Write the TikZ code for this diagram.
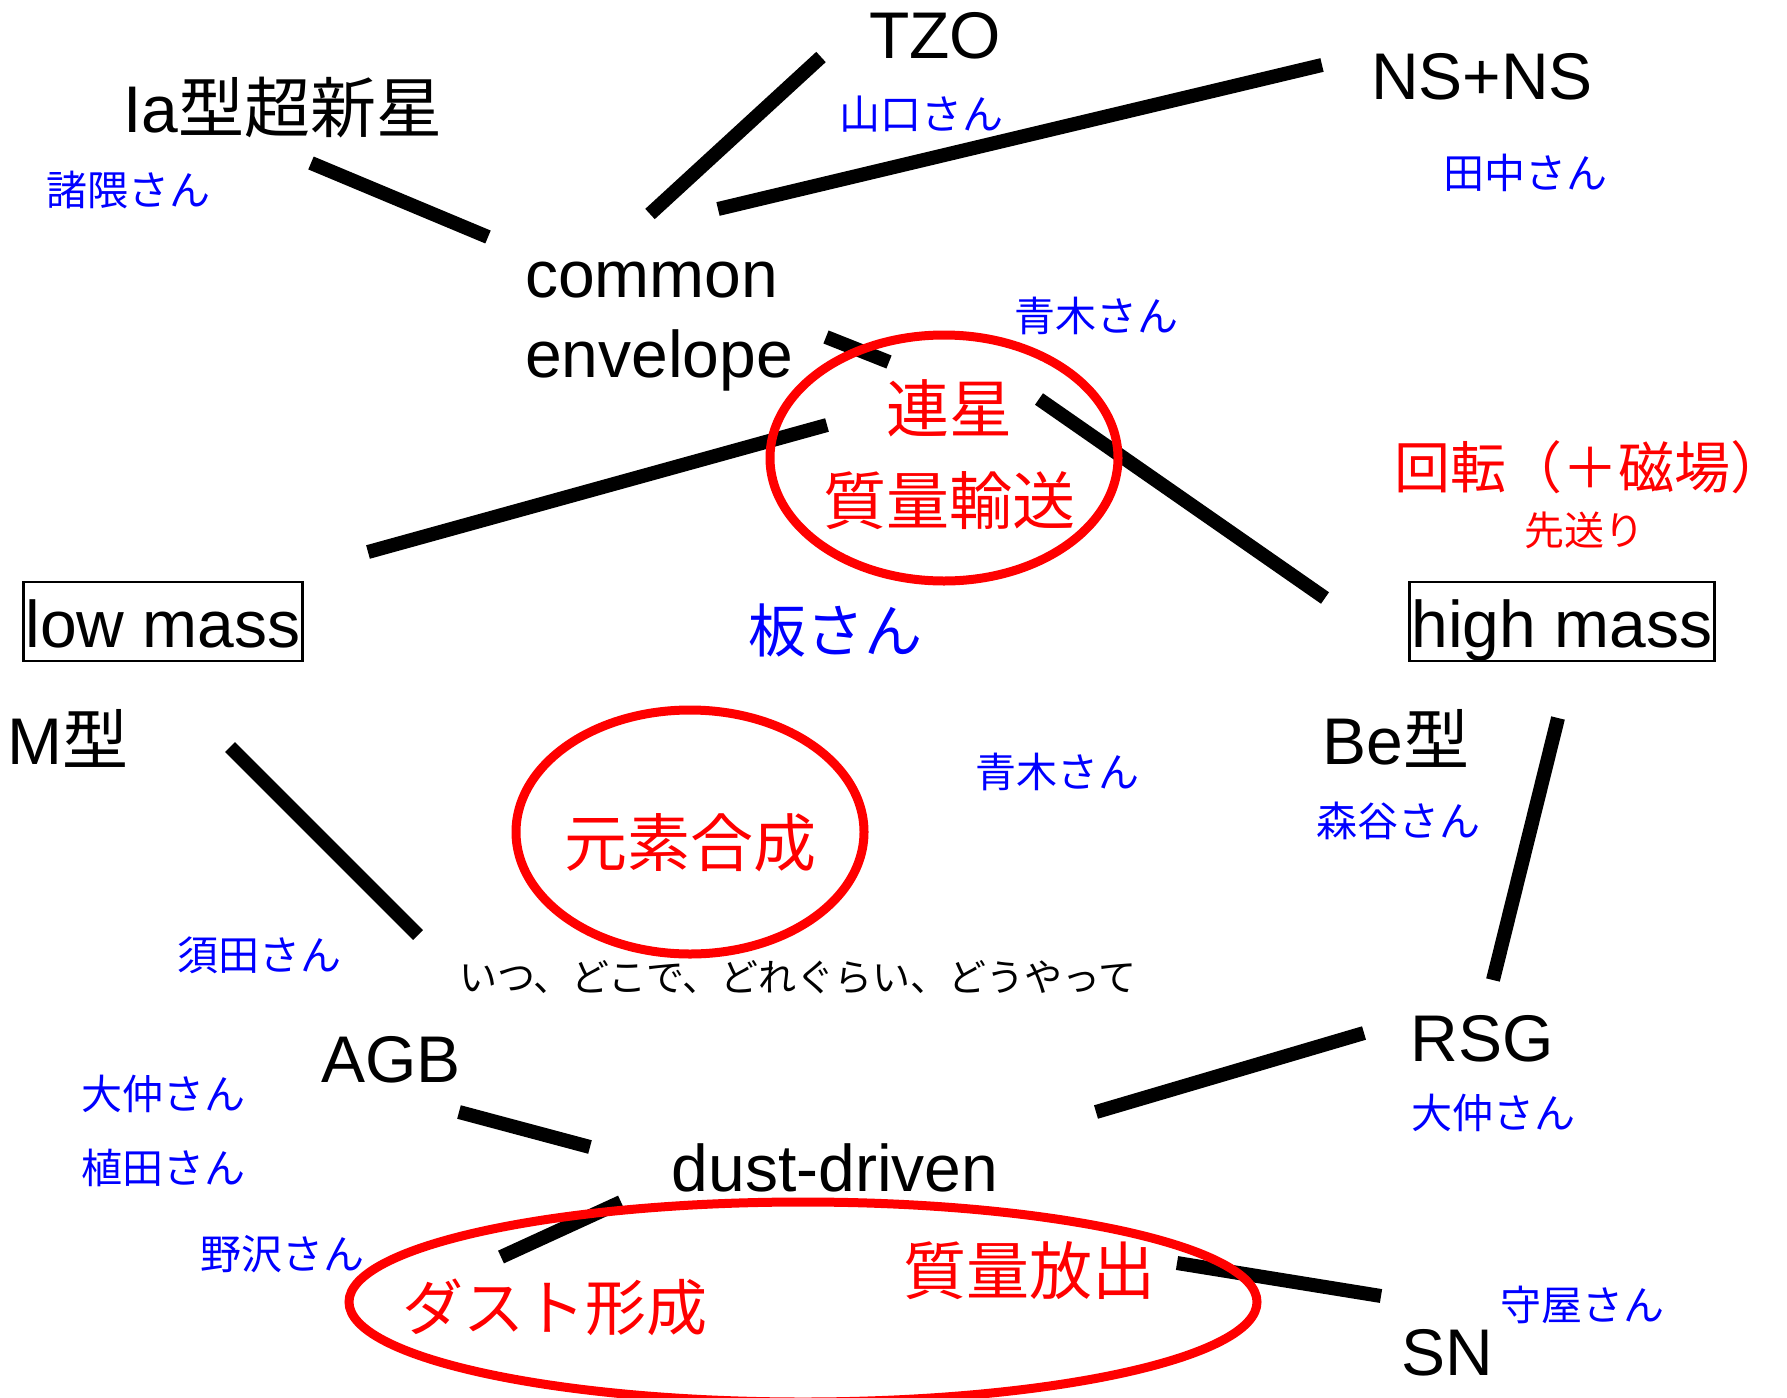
\documentclass[tikz,border=0pt]{standalone}
\usepackage{fontspec}
\setmainfont{Liberation Sans}
\newfontfamily\cjk{Noto Sans CJK JP}
\begin{document}
\begin{tikzpicture}[x=1pt,y=-1pt,
  lbl/.style={inner sep=0pt,font=\fontsize{66}{80}\selectfont},
  boxlbl/.style={draw,line width=2.5pt,inner xsep=2pt,inner ysep=6pt,text height=59pt,text depth=8pt,font=\fontsize{66}{80}\selectfont},
  nm/.style={inner sep=0pt,text=blue,font=\cjk\fontsize{41}{48}\selectfont},
  rd/.style={inner sep=0pt,text=red,font=\cjk\fontsize{63}{72}\selectfont},
  conn/.style={line width=14pt,black},
  ring/.style={draw=red,line width=9pt}]
\useasboundingbox (0,0) rectangle (1787,1397);
% labels
\node[lbl] (tzo) at (935,36) {TZO};
\node[lbl] (nsns) at (1482,77) {NS+NS};
\node[lbl] (ia) at (283,108) {Ia{\cjk 型超新星}};
\node[lbl,align=left,anchor=west] (ce) at (525,327) {common\\envelope};
\node[boxlbl] (low) at (163,621.5) {low mass};
\node[boxlbl] (high) at (1562,621.5) {high mass};
\node[lbl] (m) at (68,738) {M{\cjk 型}};
\node[lbl] (be) at (1396,738) {Be{\cjk 型}};
\node[lbl] (agb) at (391,1060) {AGB};
\node[lbl] (rsg) at (1482,1039) {RSG};
\node[lbl] (dust) at (835,1168) {dust-driven};
\node[lbl] (sn) at (1447,1353) {SN};
\node[inner sep=0pt,font=\cjk\fontsize{38}{44}\selectfont] (q) at (798,977) {いつ、どこで、どれぐらい、どうやって};
% names
\node[nm] (yamaguchi) at (921,114) {山口さん};
\node[nm] (morokuma) at (128,190) {諸隈さん};
\node[nm] (tanaka) at (1525,173) {田中さん};
\node[nm] (aoki1) at (1096,316) {青木さん};
\node[nm,font=\cjk\fontsize{58}{66}\selectfont] (ita) at (835,630) {板さん};
\node[nm] (aoki2) at (1057,772) {青木さん};
\node[nm] (moriya) at (1398,821) {森谷さん};
\node[nm] (suda) at (259,955) {須田さん};
\node[nm] (onaka1) at (163,1094) {大仲さん};
\node[nm] (ueda) at (163,1168) {植田さん};
\node[nm] (nozawa) at (282,1254) {野沢さん};
\node[nm] (onaka2) at (1493,1113) {大仲さん};
\node[nm] (moriya2) at (1582,1305) {守屋さん};
% red texts
\node[rd] (rensei) at (949,408) {連星};
\node[rd] (yuso) at (949,501) {質量輸送};
\node[rd,font=\cjk\fontsize{56}{64}\selectfont] (kaiten) at (1590,467) {回転（＋磁場）};
\node[rd,font=\cjk\fontsize{40}{46}\selectfont] (sakiokuri) at (1584,530) {先送り};
\node[rd] (genso) at (690,843) {元素合成};
\node[rd,font=\cjk\fontsize{61}{70}\selectfont] (dustform) at (555,1307) {ダスト形成};
\node[rd] (hoshutsu) at (1029,1271) {質量放出};
% connector end points
\coordinate (c1a) at (311,163);  \coordinate (c1b) at (488,237);
\coordinate (c2a) at (821,57);   \coordinate (c2b) at (650,214);
\coordinate (c3a) at (1322,65);  \coordinate (c3b) at (718,209);
\coordinate (c4a) at (826,337);  \coordinate (c4b) at (889,362);
\coordinate (c5a) at (368,552);  \coordinate (c5b) at (827,425);
\coordinate (c6a) at (1039,399); \coordinate (c6b) at (1325,598);
\coordinate (c7a) at (230,747);  \coordinate (c7b) at (418,935);
\coordinate (c8a) at (1558,718); \coordinate (c8b) at (1493,980);
\coordinate (c9a) at (459,1112); \coordinate (c9b) at (590,1147);
\coordinate (c10a) at (1364,1033); \coordinate (c10b) at (1096,1112);
\coordinate (c11a) at (621,1202); \coordinate (c11b) at (501,1257);
\coordinate (c12a) at (1177,1263); \coordinate (c12b) at (1381,1296);
\foreach \i in {1,...,12} {\draw[conn] (c\i a) -- (c\i b);}
% red rings
\draw[ring] (944,458) ellipse [x radius=174, y radius=123];
\draw[ring] (690,832) ellipse [x radius=174, y radius=122];
\draw[ring] (803,1302) ellipse [x radius=454, y radius=100];
\end{tikzpicture}
\end{document}
